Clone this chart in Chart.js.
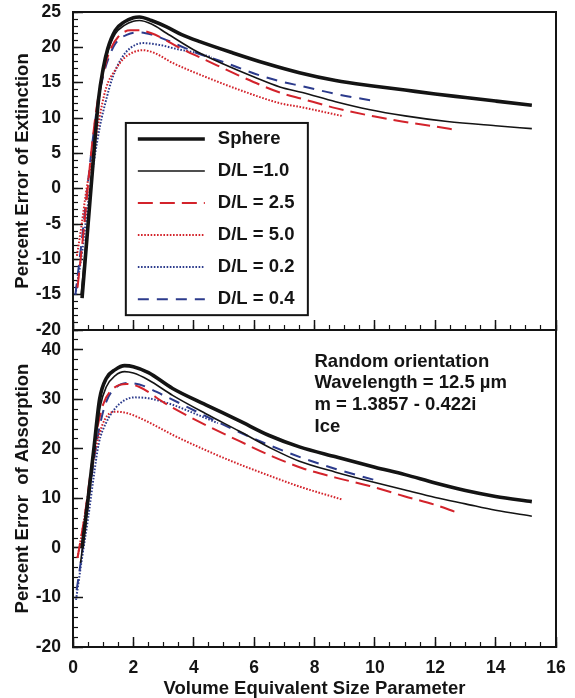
<!DOCTYPE html>
<html>
<head>
<meta charset="utf-8">
<title>Percent error of extinction and absorption</title>
<script src="https://cdn.jsdelivr.net/npm/chart.js@4.4.1/dist/chart.umd.min.js"></script>
<style>
  html, body { margin: 0; padding: 0; background: #fff; }
  #wrap { position: relative; width: 575px; height: 698px; overflow: hidden; }
  #wrap canvas { position: absolute; left: 0; }
  #extChart { top: 0; }
  #absChart { top: 320px; }
</style>
</head>
<body>
<div id="wrap">
  <canvas id="extChart" width="575" height="344"></canvas>
  <canvas id="absChart" width="575" height="378"></canvas>
</div>
<script>
// legend order = dataset order
const seriesLabels = ['Sphere', 'D/L =1.0', 'D/L = 2.5', 'D/L = 5.0', 'D/L = 0.2', 'D/L = 0.4'];

// percent error of extinction: [size parameter, percent]
const extSphere = [[0.3,-15.5],[0.5,-5],[0.7,5.5],[0.85,12.8],[1.0,17.0],[1.15,19.8],[1.4,22.4],[1.7,23.6],[2.0,24.2],[2.2,24.3],[2.6,23.8],[3.1,22.9],[3.6,21.8],[4.2,20.8],[5.3,19.2],[6.4,17.7],[7.5,16.4],[8.7,15.3],[10,14.5],[11,13.95],[12,13.4],[13,12.9],[14,12.4],[15.2,11.8]];
const extDL10 = [[0.27,-15],[0.5,-4.5],[0.7,6],[0.85,12.3],[1.0,16.5],[1.15,19.3],[1.4,21.9],[1.7,23.1],[2.0,23.7],[2.2,23.8],[2.6,23.3],[3.1,22.0],[4.1,19.4],[5.0,17.6],[6.0,15.8],[6.85,14.4],[7.6,13.6],[8.7,12.3],[9.8,11.2],[11,10.3],[12.4,9.5],[14,8.9],[15.2,8.5]];
const extDL25 = [[0.15,-14],[0.4,-4],[0.6,5],[0.8,12],[1.0,16.3],[1.2,19.3],[1.5,21.5],[1.9,22.4],[2.2,22.4],[2.6,22.0],[3.0,21.2],[3.5,20.0],[4.4,18.2],[5.5,16.0],[6.85,13.6],[7.6,12.7],[8.7,11.4],[10,10.2],[10.9,9.5],[12,8.8],[12.7,8.3]];
const extDL50 = [[0.13,-9.5],[0.29,-5],[0.45,0],[0.67,5],[0.85,9.5],[1.1,14.3],[1.4,16.8],[1.7,18.5],[2.0,19.3],[2.3,19.6],[2.7,19.2],[3.3,17.8],[4.4,15.8],[5.5,14.0],[6.85,12.1],[7.6,11.5],[8.9,10.3]];
const extDL02 = [[0.08,-15],[0.3,-9],[0.5,-2],[0.7,4],[0.9,9],[1.1,12.6],[1.3,15.6],[1.6,18.4],[1.9,19.9],[2.3,20.6],[2.8,20.4],[3.5,19.7],[4.0,19.3],[4.6,18.6]];
const extDL04 = [[0.08,-15],[0.3,-7],[0.5,1],[0.7,8.5],[0.9,14],[1.1,17.5],[1.4,20.5],[1.8,21.8],[2.2,22.1],[2.6,21.8],[3.0,21.2],[3.5,20.3],[4.1,19.2],[5.0,17.9],[6.0,16.3],[6.85,15.2],[7.6,14.5],[8.7,13.4],[10.0,12.4]];

// percent error of absorption
const absSphere = [[0.3,0],[0.5,10],[0.7,20.5],[0.88,30],[1.1,34.2],[1.4,36.0],[1.71,36.8],[2.0,36.6],[2.5,35.4],[3.3,32.2],[4.4,28.9],[5.5,25.7],[6.5,22.7],[7.5,20.4],[8.7,18.4],[10,16.3],[11,14.8],[12,13.1],[13,11.6],[14,10.4],[15.2,9.35]];
const absDL10 = [[0.25,-3],[0.5,9],[0.7,19.5],[0.9,28.5],[1.1,32.5],[1.4,34.8],[1.71,35.6],[2.0,35.3],[2.5,33.9],[3.3,30.8],[4.4,27.1],[5.5,23.6],[6.6,20.0],[7.5,17.5],[8.7,15.3],[10,13.2],[11,11.7],[12,10.2],[13,8.9],[14,7.6],[15.2,6.4]];
const absDL25 = [[0.15,-2],[0.4,7],[0.6,16],[0.8,24],[1.0,29],[1.3,32],[1.77,33.1],[2.2,32.5],[3.0,29.4],[3.3,28.3],[4.4,24.8],[5.5,21.6],[6.6,18.5],[7.6,16.1],[8.7,14.2],[9.83,12.5],[11,10.4],[12,8.7],[12.7,7.2]];
const absDL50 = [[0.15,-2],[0.35,5],[0.55,13],[0.75,20],[0.95,24.5],[1.15,26.8],[1.43,27.5],[1.8,27.2],[2.5,25.4],[3.31,22.8],[4.3,20.0],[5.3,17.4],[6.5,14.6],[7.5,12.4],[8.9,9.8]];
const absDL02 = [[0.1,-10.5],[0.3,-2],[0.5,6],[0.7,15],[0.85,21],[1.1,25.3],[1.4,28.2],[1.7,29.8],[2.04,30.4],[2.5,30.2],[3.3,28.9],[4.2,26.7],[4.8,25.2]];
const absDL04 = [[0.12,-8.5],[0.3,-1],[0.5,9],[0.7,18],[0.9,25],[1.1,29.5],[1.4,32.3],[1.82,33.3],[2.2,33.0],[3.0,30.8],[4.4,26.6],[5.5,23.4],[6.6,20.5],[7.63,18.1],[8.73,15.9],[10.0,13.7]];

const xTickLabels = [0, 2, 4, 6, 8, 10, 12, 14, 16];
const extTickLabels = [-20, -15, -10, -5, 0, 5, 10, 15, 20, 25];
const absTickLabels = [-20, -10, 0, 10, 20, 30, 40];
const noteLines = ['Random orientation', 'Wavelength = 12.5 \u00b5m', 'm = 1.3857 - 0.422i', 'Ice'];

const FONT = '"Liberation Sans", Arial, Helvetica, sans-serif';
const INK = '#141414';
const RED = '#d3232b';
const BLUE = '#2c3b8c';

const lineStyles = [
  { borderColor: INK, borderWidth: 3.6, borderDash: [] },
  { borderColor: INK, borderWidth: 1.6, borderDash: [] },
  { borderColor: RED, borderWidth: 2, borderDash: [15, 7] },
  { borderColor: RED, borderWidth: 2, borderDash: [1.6, 1.6] },
  { borderColor: BLUE, borderWidth: 2, borderDash: [1.6, 1.6] },
  { borderColor: BLUE, borderWidth: 2, borderDash: [11, 8] }
];

function range(lo, hi, step) {
  const out = [];
  for (let v = lo; v <= hi + 1e-9; v += step) out.push(+v.toFixed(2));
  return out;
}

function toDatasets(seriesList) {
  return seriesList.map((pts, i) => ({
    label: seriesLabels[i],
    data: pts.map(p => ({ x: p[0], y: p[1] })),
    ...lineStyles[i],
    pointRadius: 0,
    fill: false,
    cubicInterpolationMode: 'monotone'
  }));
}

// boxed legend inside the plot, corners given in data units
const boxLegend = {
  id: 'boxLegend',
  afterDatasetsDraw(chart, args, opts) {
    if (!opts.show) return;
    const { ctx, scales: { x, y } } = chart;
    const left = x.getPixelForValue(opts.x0);
    const right = x.getPixelForValue(opts.x1);
    const top = y.getPixelForValue(opts.y0);
    const bottom = y.getPixelForValue(opts.y1);
    const rowH = (bottom - top) / chart.data.datasets.length;
    ctx.save();
    ctx.fillStyle = '#fff';
    ctx.fillRect(left, top, right - left, bottom - top);
    ctx.lineWidth = 2;
    ctx.strokeStyle = INK;
    ctx.strokeRect(left, top, right - left, bottom - top);
    ctx.font = 'bold 18.5px ' + FONT;
    ctx.textBaseline = 'middle';
    chart.data.datasets.forEach((ds, i) => {
      const cy = top + rowH * (i + 0.5);
      ctx.strokeStyle = ds.borderColor;
      ctx.lineWidth = ds.borderWidth;
      ctx.setLineDash(ds.borderDash || []);
      ctx.beginPath();
      ctx.moveTo(left + 12, cy);
      ctx.lineTo(left + 79, cy);
      ctx.stroke();
      ctx.setLineDash([]);
      ctx.fillStyle = INK;
      ctx.fillText(ds.label, left + 92, cy);
    });
    ctx.restore();
  }
};

const noteText = {
  id: 'noteText',
  afterDatasetsDraw(chart, args, opts) {
    if (!opts.lines) return;
    const { ctx, scales: { x, y } } = chart;
    ctx.save();
    ctx.font = 'bold 18.5px ' + FONT;
    ctx.fillStyle = INK;
    ctx.textBaseline = 'middle';
    opts.lines.forEach((t, i) => {
      ctx.fillText(t, x.getPixelForValue(opts.x), y.getPixelForValue(opts.y) + i * opts.gap);
    });
    ctx.restore();
  }
};

// fixed axis box size; drop the label overhang padding so the plot frame stays put
const fixSize = (w, h) => s => {
  if (w !== null) s.width = w;
  if (h !== null) s.height = h;
  s.paddingTop = s.paddingBottom = s.paddingLeft = s.paddingRight = 0;
};

function panelScales(o) {
  const setTicks = vals => s => { s.ticks = vals.map(v => ({ value: v })); };
  const tickFont = { family: FONT, size: 17.5, weight: 'bold' };
  const titleFont = { family: FONT, size: 18.5, weight: 'bold', lineHeight: 1 };
  const frame = { display: true, color: INK, width: 2 };
  return {
    x: {
      type: 'linear', position: 'bottom', min: 0, max: 16, weight: 1,
      afterBuildTicks: setTicks(xTickLabels),
      ticks: { display: o.showX, font: tickFont, color: INK, padding: 20.5, maxRotation: 0, callback: v => String(v) },
      grid: { drawOnChartArea: false, tickLength: -10, tickWidth: 1.5, tickColor: INK },
      border: frame,
      title: { display: o.showX, text: 'Volume Equivalent Size Parameter', font: titleFont, color: INK, padding: 0 },
      afterFit: fixSize(null, o.xHeight)
    },
    xMinor: {
      type: 'linear', position: 'bottom', min: 0, max: 16, weight: 0,
      afterBuildTicks: setTicks(range(0, 16, 0.5)),
      ticks: { display: false },
      grid: { drawOnChartArea: false, tickLength: -5, tickWidth: 1.2, tickColor: INK },
      border: { display: false },
      afterFit: fixSize(null, 0)
    },
    y: {
      type: 'linear', position: 'left', min: o.yMin, max: o.yMax, weight: 1,
      afterBuildTicks: setTicks(o.yTicks),
      ticks: { font: tickFont, color: INK, padding: 22, callback: v => String(v) },
      grid: { drawOnChartArea: false, tickLength: -10, tickWidth: 1.5, tickColor: INK },
      border: frame,
      title: { display: true, text: o.yTitle, font: titleFont, color: INK, padding: { top: 14, bottom: 0 } },
      afterFit: fixSize(73, null)
    },
    yMinor: {
      type: 'linear', position: 'left', min: o.yMin, max: o.yMax, weight: 0,
      afterBuildTicks: setTicks(range(o.yMin, o.yMax, o.yMinorStep)),
      ticks: { display: false },
      grid: { drawOnChartArea: false, tickLength: -5, tickWidth: 1.2, tickColor: INK },
      border: { display: false },
      afterFit: fixSize(0, null)
    },
    xTop: {
      type: 'linear', position: 'top', min: 0, max: 16,
      ticks: { display: false }, grid: { display: false }, border: frame,
      afterFit: fixSize(null, 0)
    },
    yRight: {
      type: 'linear', position: 'right', min: o.yMin, max: o.yMax,
      ticks: { display: false }, grid: { display: false }, border: frame,
      afterFit: fixSize(0, null)
    }
  };
}

function makePanel(id, datasets, o, extraPlugins) {
  return new Chart(document.getElementById(id), {
    type: 'line',
    data: { datasets },
    options: {
      responsive: false,
      animation: false,
      devicePixelRatio: 1,
      events: [],
      layout: { autoPadding: false, padding: { left: 0, right: 19, top: o.padTop, bottom: 0 } },
      scales: panelScales(o),
      plugins: Object.assign({ legend: { display: false }, tooltip: { enabled: false } }, o.plugins)
    },
    plugins: extraPlugins
  });
}

makePanel('extChart', toDatasets([extSphere, extDL10, extDL25, extDL50, extDL02, extDL04]), {
  padTop: 12, xHeight: 14, showX: false,
  yMin: -20, yMax: 25, yTicks: extTickLabels, yMinorStep: 1,
  yTitle: 'Percent Error of Extinction',
  plugins: { boxLegend: { show: true, x0: 1.75, x1: 7.78, y0: 9.3, y1: -17.9 } }
}, [boxLegend]);

makePanel('absChart', toDatasets([absSphere, absDL10, absDL25, absDL50, absDL02, absDL04]), {
  padTop: 10, xHeight: 51, showX: true,
  yMin: -20, yMax: 44, yTicks: absTickLabels, yMinorStep: 2,
  yTitle: 'Percent Error  of Absorption',
  plugins: { noteText: { lines: noteLines, x: 8.0, y: 37.6, gap: 21.7 } }
}, [noteText]);
</script>
</body>
</html>
